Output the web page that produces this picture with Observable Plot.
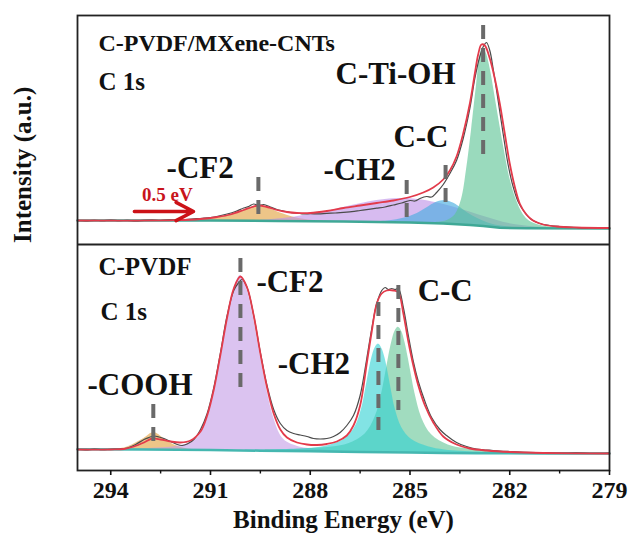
<!DOCTYPE html>
<html><head><meta charset="utf-8">
<script src="https://cdn.jsdelivr.net/npm/d3@7"></script>
<script src="https://cdn.jsdelivr.net/npm/@observablehq/plot@0.6"></script>
<style>html,body{margin:0;padding:0;background:#fff;}</style>
</head><body><div id="chart"></div>
<script>
// ---------- DATA (binding energy eV, intensity a.u.) ----------
const majorTicks = [294, 291, 288, 285, 282, 279];
const minorTicks = [292.5, 289.5, 286.5, 283.5, 280.5];

// Top panel: C-PVDF/MXene-CNTs, C 1s
const topMeasured = [[295,8],[294.75,7.6],[294.5,8.2],[294.25,7.8],[294,8.3],[293.75,7.9],[293.5,8.1],[293.25,7.7],[293,8.2],[292.75,8.4],[292.5,8.0],[292.25,8.6],[292,8.8],[291.75,9.0],[291.5,9.6],[291.25,10.2],[291,11],[290.75,12.5],[290.5,14.5],[290.25,17],[290,20.5],[289.85,22],[289.7,24.5],[289.55,23],[289.4,24],[289.2,21.5],[289,19],[288.8,17.5],[288.6,16],[288.4,15.5],[288.2,14.5],[288,14.8],[287.75,14.6],[287.5,15.2],[287.25,15.5],[287,16.2],[286.75,16.8],[286.5,18],[286.25,19.2],[286,20.3],[285.75,21.5],[285.5,23.5],[285.25,25.5],[285,28],[284.85,27.5],[284.7,30],[284.5,32],[284.35,31.5],[284.2,36],[284,44],[283.8,55],[283.6,68],[283.4,90],[283.2,120],[283.05,150],[282.9,172],[282.78,183],[282.7,186],[282.6,178],[282.5,160],[282.35,128],[282.2,95],[282.05,64],[281.9,42],[281.75,27],[281.55,16],[281.35,9],[281.1,5],[280.8,3],[280.5,2],[280.25,1.5],[280,1],[279.75,0.5],[279.5,1],[279.25,0.5],[279,0.6]];
const topFit = [[295,8],[292,8.3],[291.3,9.5],[290.8,11.5],[290.4,14],[290.0,18.5],[289.75,21.5],[289.55,23],[289.3,21.5],[289.0,18.5],[288.7,16.5],[288.4,15.5],[288.0,15.5],[287.5,17.5],[287.0,20.5],[286.5,23],[286.0,25.5],[285.5,28],[285.0,31.5],[284.6,36],[284.3,41],[284.0,49],[283.8,58],[283.6,72],[283.4,95],[283.2,125],[283.05,155],[282.95,174],[282.85,184],[282.75,183],[282.6,170],[282.45,150],[282.3,125],[282.15,95],[282.0,65],[281.85,42],[281.7,25],[281.5,14],[281.3,8],[281.0,4],[280.6,2],[280,1],[279,0.5]];
const topBackground = [[295,8],[291,8],[289,7.5],[287,7],[285,6],[284,5],[283.2,3.5],[282.8,2.5],[282.3,0.8],[281.5,0.2],[279,0]];
const topCF2 = [[291.4,0],[291.0,1.5],[290.6,4],[290.2,8],[289.9,12],[289.55,15],[289.2,12],[288.9,8],[288.5,4],[288.1,1.5],[287.7,0.5],[287.3,0]];
const topCH2 = [[289.5,0.5],[289,2],[288.5,4],[288,7],[287.5,10],[287,14],[286.5,18],[286,21.5],[285.5,23.5],[285.1,24],[284.7,23],[284.2,20.5],[283.7,17],[283.2,13],[282.7,9],[282.2,5.5],[281.7,3],[281.2,1.2],[280.7,0.4],[280.2,0]];
const topCC = [[285.9,0.5],[285.5,2],[285.1,5],[284.8,9],[284.5,15],[284.2,21],[283.93,23],[283.7,21],[283.4,15],[283.1,9],[282.8,5],[282.5,2.5],[282.1,1],[281.6,0]];
const topCTiOH = [[284.2,1],[283.9,3],[283.65,9],[283.45,25],[283.3,55],[283.15,95],[283.0,140],[282.9,168],[282.82,178],[282.72,174],[282.6,160],[282.45,132],[282.3,103],[282.15,75],[282.0,50],[281.8,28],[281.6,14],[281.4,7],[281.1,3],[280.7,1],[280.2,0]];
const topMarkers = [[289.56,6,51],[285.1,4,48],[283.93,23,63],[282.8,73,203]];

// Bottom panel: C-PVDF, C 1s
const botMeasured = [[295,4],[294.75,3.6],[294.5,4.3],[294.25,3.8],[294,4.2],[293.75,4.5],[293.5,5.5],[293.25,9],[293,14],[292.85,16],[292.7,17.5],[292.55,16.5],[292.4,15],[292.2,12],[292,9],[291.85,8],[291.7,9.5],[291.5,14],[291.3,24],[291.1,40],[290.9,66],[290.7,101],[290.5,138],[290.3,163],[290.15,171],[290.05,174],[289.9,166],[289.7,138],[289.5,101],[289.3,68],[289.1,44],[288.9,30],[288.7,23],[288.5,20],[288.3,18.5],[288.1,17],[287.9,15],[287.7,14.5],[287.5,15],[287.3,17],[287.1,21],[286.9,28],[286.7,38],[286.5,58],[286.3,95],[286.15,125],[286.0,150],[285.85,163],[285.75,166],[285.65,164],[285.55,165],[285.45,164],[285.35,165],[285.2,146],[285.05,118],[284.9,92],[284.75,72],[284.55,52],[284.35,36],[284.1,24],[283.9,18],[283.6,11],[283.3,7],[283,4.5],[282.5,3],[282,2],[281.5,1.2],[281,0.8],[280.5,0.3],[280,0.6],[279.5,0.2],[279,0.5]];
const botFit = [[295,4],[294,4],[293.6,4.5],[293.3,7],[293,11],[292.75,15],[292.5,14],[292.2,12],[291.9,11],[291.6,13],[291.3,22],[291.1,38],[290.9,64],[290.7,99],[290.5,136],[290.3,165],[290.1,177],[289.9,166],[289.7,138],[289.5,100],[289.3,66],[289.1,40],[288.9,24],[288.7,16],[288.4,11],[288.1,9],[287.8,8.5],[287.5,9.5],[287.2,12],[286.9,18],[286.7,28],[286.5,48],[286.3,90],[286.15,122],[286.0,150],[285.85,160],[285.7,163],[285.5,163],[285.35,161],[285.2,140],[285.05,112],[284.9,88],[284.75,68],[284.55,48],[284.3,31],[284.0,17],[283.6,9],[283.2,5],[282.7,3],[282,1.5],[281,0.5],[279,0]];
const botBackground = [[295,4.2],[293,4],[291,3.5],[289.5,2.8],[288,2.2],[286.5,1.6],[285,1],[284,0.6],[283,0.3],[281,0],[279,0]];
const botCOOH = [[294,0],[293.6,1.5],[293.3,5.5],[293.0,11],[292.7,17],[292.4,11],[292.1,5],[291.8,1.5],[291.4,0]];
const botCF2 = [[293.6,0],[293.1,0.5],[292.6,1.5],[292.1,3],[291.8,5],[291.5,9],[291.3,16],[291.1,33],[290.9,60],[290.7,95],[290.5,132],[290.3,161],[290.1,175],[289.9,161],[289.7,132],[289.5,95],[289.3,60],[289.1,33],[288.9,16],[288.7,9],[288.4,5],[288.1,3],[287.6,1.5],[287.1,0.5],[286.6,0]];
const botCH2 = [[289.95,0.5],[288.95,1.2],[287.95,3],[287.45,6],[286.95,13],[286.65,25],[286.45,44],[286.35,60],[286.25,78],[286.15,94],[286.05,104],[285.95,108],[285.85,104],[285.75,94],[285.65,78],[285.55,60],[285.45,44],[285.25,25],[284.95,13],[284.45,6],[283.95,3],[282.95,1.2],[281.95,0.5]];
const botCC = [[289.35,0.8],[288.35,2],[287.35,4.5],[286.85,8],[286.35,18],[286.05,35],[285.85,59],[285.75,76],[285.65,94],[285.55,110],[285.45,121],[285.35,125],[285.25,121],[285.15,110],[285.05,94],[284.95,76],[284.85,59],[284.65,35],[284.35,18],[283.85,8],[283.35,4.5],[282.35,2],[281.35,0.8]];
const botMarkers = [[292.72,3,49],[290.1,63,195],[285.95,23,151],[285.35,43,168]];

// Text
const topTitle = ["C-PVDF/MXene-CNTs", "C 1s"];
const botTitle = ["C-PVDF", "C 1s"];
const topPeakNames = ["C-Ti-OH", "C-C", "-CH2", "-CF2"];
const botPeakNames = ["-CF2", "C-C", "-CH2", "-COOH"];
const shiftLabel = "0.5 eV";
const xTitle = "Binding Energy (eV)";
const yTitle = "Intensity (a.u.)";

// ---------- LAYOUT ----------
const TOP = 242, BOT = 17, DIVIDER = 226;
const rows = (pairs, off) => pairs.map(([E, I]) => ({E, y: I + off}));
function comp(pairs, bgPairs, off) {
  const bg = d3.scaleLinear(bgPairs.map(p => p[0]), bgPairs.map(p => p[1]));
  return pairs.map(([E, h]) => ({E, lo: bg(E) + off, hi: bg(E) + h + off}));
}
const markers = (m, off) => m.map(([E, lo, hi]) => ({E, lo: lo + off, hi: hi + off}));
const area = (pairs, bg, off, fill, op) =>
  Plot.areaY(comp(pairs, bg, off), {x: "E", y1: "lo", y2: "hi", fill, fillOpacity: op, curve: "catmull-rom"});

const peakLabelsTop = [
  {t: topPeakNames[0], E: 287.24, y: 154 + TOP},
  {t: topPeakNames[1], E: 285.5, y: 91 + TOP},
  {t: topPeakNames[2], E: 287.6, y: 58 + TOP},
  {t: topPeakNames[3], E: 292.32, y: 60 + TOP}
];
const peakLabelsBot = [
  {t: botPeakNames[0], E: 289.62, y: 171 + BOT},
  {t: botPeakNames[1], E: 284.77, y: 162 + BOT},
  {t: botPeakNames[2], E: 288.98, y: 89 + BOT},
  {t: botPeakNames[3], E: 294.7, y: 68 + BOT}
];
const sampleLabels = [
  {t: topTitle[0], E: 294.37, y: 185 + TOP, s: 24},
  {t: topTitle[1], E: 294.37, y: 147 + TOP, s: 25},
  {t: botTitle[0], E: 294.37, y: 187 + BOT, s: 25},
  {t: botTitle[1], E: 294.31, y: 142 + BOT, s: 25}
];

const chart = Plot.plot({
  width: 628, height: 545,
  marginLeft: 77, marginRight: 19, marginTop: 15, marginBottom: 75,
  x: {domain: [295, 279], label: null},
  y: {domain: [0, 455], axis: null, label: null},
  style: {fontFamily: "'Liberation Serif', 'Times New Roman', serif", fontWeight: "bold", background: "white", color: "#111"},
  marks: [
    // top components
    area(topCF2, topBackground, TOP, "#e3a648", 0.65),
    area(topCH2, topBackground, TOP, "#bf92e6", 0.62),
    area(topCC, topBackground, TOP, "#4aaee0", 0.65),
    area(topCTiOH, topBackground, TOP, "#5cc494", 0.62),
    // bottom components
    area(botCOOH, botBackground, BOT, "#e3a648", 0.65),
    area(botCF2, botBackground, BOT, "#c39be6", 0.6),
    area(botCC, botBackground, BOT, "#62c595", 0.6),
    area(botCH2, botBackground, BOT, "#2fd0d2", 0.6),
    // backgrounds
    Plot.line(rows(topBackground, TOP), {x: "E", y: "y", stroke: "#3fa896", strokeWidth: 2.5}),
    Plot.line(rows(botBackground, BOT), {x: "E", y: "y", stroke: "#45b7b0", strokeWidth: 2.5}),
    // measured + envelope
    Plot.line(rows(topMeasured, TOP), {x: "E", y: "y", stroke: "#4b4b4b", strokeWidth: 1.2, curve: "catmull-rom"}),
    Plot.line(rows(botMeasured, BOT), {x: "E", y: "y", stroke: "#4b4b4b", strokeWidth: 1.2, curve: "catmull-rom"}),
    Plot.line(rows(topFit, TOP), {x: "E", y: "y", stroke: "#e33b4b", strokeWidth: 1.8, curve: "catmull-rom"}),
    Plot.line(rows(botFit, BOT), {x: "E", y: "y", stroke: "#e33b4b", strokeWidth: 1.8, curve: "catmull-rom"}),
    // peak markers
    Plot.ruleX(markers(topMarkers, TOP), {x: "E", y1: "hi", y2: "lo", stroke: "#6a6a6a", strokeWidth: 4, strokeDasharray: "14,9"}),
    Plot.ruleX(markers(botMarkers, BOT), {x: "E", y1: "hi", y2: "lo", stroke: "#6a6a6a", strokeWidth: 4, strokeDasharray: "14,9"}),
    // shift arrow
    Plot.arrow([{x1: 293.29, x2: 291.51, y: 17 + TOP}], {x1: "x1", x2: "x2", y1: "y", y2: "y", stroke: "#cc1218", strokeWidth: 3.5, headLength: 11, headAngle: 55}),
    Plot.text([{t: shiftLabel, E: 292.3, y: 33.5 + TOP}], {x: "E", y: "y", text: "t", fill: "#c8141c", fontSize: 19, textAnchor: "middle"}),
    // labels
    Plot.text(peakLabelsTop, {x: "E", y: "y", text: "t", fontSize: 31, textAnchor: "start", fill: "#111"}),
    Plot.text(peakLabelsBot, {x: "E", y: "y", text: "t", fontSize: 31, textAnchor: "start", fill: "#111"}),
    Plot.text(sampleLabels, {x: "E", y: "y", text: "t", fontSize: d => d.s, textAnchor: "start", fill: "#111"}),
    // frame & divider
    Plot.ruleY([DIVIDER], {stroke: "#222", strokeWidth: 1.8}),
    Plot.frame({stroke: "#222", strokeWidth: 1.8}),
    // axes
    Plot.axisX({ticks: majorTicks, tickSize: 5, tickPadding: 5, fontSize: 24, strokeWidth: 1.6, label: null, tickFormat: d => String(d)}),
    Plot.axisX({ticks: minorTicks, tickSize: 3.5, strokeWidth: 1.4, text: null, label: null}),
    Plot.text([xTitle], {frameAnchor: "bottom", dy: 57, fontSize: 25, fill: "#111"}),
    Plot.text([yTitle], {frameAnchor: "left", dx: -55, rotate: -90, fontSize: 25, fill: "#111"})
  ]
});
document.getElementById("chart").appendChild(chart);
</script>
</body></html>
